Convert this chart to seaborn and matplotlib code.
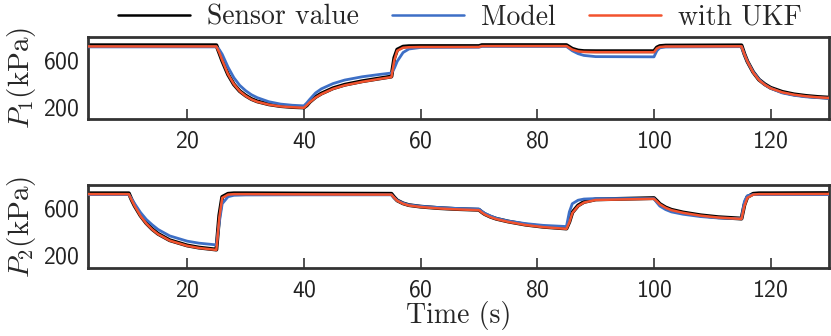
import matplotlib
matplotlib.use('Agg')
import pandas as pd
import seaborn as sns
import matplotlib.pyplot as plt

# panel 1 (P1)
t1 = [3, 25, 25.5, 26, 27, 28, 29, 30, 31, 32, 34, 36, 38, 40, 40.5, 41, 42, 43, 45, 47, 50, 53, 55,
      55.5, 56, 57, 58, 60, 70, 70.5, 85, 86, 87, 88, 90, 100, 100.5, 101, 102, 115, 115.5, 116, 117,
      118, 119, 120, 122, 124, 126, 128, 130]
p1_sensor = [727, 727, 662, 595, 478, 393, 336, 298, 268, 248, 223, 208, 200, 196, 214, 243, 285, 315,
             360, 390, 420, 444, 460, 620, 690, 715, 719, 720, 720, 728, 728, 697, 682, 677, 676, 676,
             708, 720, 724, 726, 652, 590, 498, 433, 394, 364, 329, 308, 295, 286, 280]
p1_model = [713, 713, 690, 650, 540, 450, 385, 340, 305, 280, 245, 225, 215, 210, 235, 265, 320, 355,
            400, 430, 458, 478, 490, 530, 590, 665, 695, 708, 710, 717, 717, 680, 655, 640, 630, 628,
            680, 705, 712, 715, 650, 590, 500, 435, 390, 360, 320, 300, 287, 280, 274]
p1_ukf = [717, 717, 665, 600, 480, 395, 335, 295, 265, 245, 220, 205, 198, 193, 215, 240, 280, 310,
          355, 385, 415, 440, 455, 600, 680, 706, 710, 712, 712, 720, 720, 690, 675, 670, 668, 668,
          700, 712, 716, 718, 650, 590, 495, 430, 390, 360, 325, 305, 292, 283, 277]

# panel 2 (P2)
t2 = [3, 10, 10.5, 11, 12, 13, 14, 15, 17, 20, 22, 25, 25.5, 26, 27, 28, 30, 40, 55, 55.5, 56, 57, 58,
      60, 63, 66, 70, 70.5, 71, 72, 73, 75, 78, 81, 85, 85.5, 86, 87, 88, 90, 100, 100.5, 101, 102,
      103, 105, 108, 111, 115, 115.5, 116, 117, 118, 120, 130]
p2_sensor = [729, 729, 671, 621, 538, 473, 423, 383, 328, 283, 265, 248, 540, 698, 725, 729, 729, 727,
             725, 694, 668, 643, 628, 615, 603, 595, 588, 568, 551, 528, 511, 488, 461, 443, 428, 485,
             565, 625, 655, 677, 688, 664, 638, 608, 588, 565, 541, 525, 513, 630, 697, 725, 729, 729,
             731]
p2_model = [718, 718, 680, 640, 565, 505, 460, 420, 365, 320, 303, 288, 480, 640, 700, 712, 715, 716,
            716, 690, 668, 645, 630, 618, 608, 600, 595, 575, 558, 535, 515, 492, 470, 455, 445, 570,
            640, 670, 680, 684, 684, 650, 620, 590, 570, 550, 530, 518, 512, 660, 708, 718, 718, 718,
            718]
p2_ukf = [722, 722, 670, 620, 535, 470, 420, 380, 325, 280, 262, 245, 520, 690, 718, 722, 722, 720,
          718, 690, 665, 640, 625, 612, 600, 592, 585, 565, 548, 525, 508, 485, 458, 440, 425, 480,
          560, 620, 650, 672, 682, 660, 635, 605, 585, 562, 538, 522, 510, 620, 690, 718, 722, 722,
          724]

series_labels = ['Sensor value', 'Model', 'with UKF']
ylabels = [r'$P_1$(kPa)', r'$P_2$(kPa)']

sns.set_style('ticks')
plt.rcParams['font.family'] = ['cmr10', 'DejaVu Serif']
plt.rcParams['mathtext.fontset'] = 'cm'
plt.rcParams['axes.formatter.use_mathtext'] = True

colors = ['black', '#3d6fc6', '#f2532e']
widths = [2.8, 2.0, 1.8]

fig = plt.figure(figsize=(8.31, 3.36), dpi=100)
ax1 = fig.add_axes([0.1059, 0.6449, 0.8917, 0.2459])
ax2 = fig.add_axes([0.1059, 0.2015, 0.8917, 0.2479])

panels = [(ax1, t1, [p1_sensor, p1_model, p1_ukf], (95, 800)),
          (ax2, t2, [p2_sensor, p2_model, p2_ukf], (88, 800))]

for i, (ax, t, vals, ylim) in enumerate(panels):
    for j, v in enumerate(vals):
        df = pd.DataFrame({'t': t, 'p': v})
        sns.lineplot(data=df, x='t', y='p', ax=ax, color=colors[j], lw=widths[j],
                     label=series_labels[j] if i == 0 else None, legend=False, zorder=2 + j)
    ax.set_xlim(3, 130)
    ax.set_ylim(*ylim)
    ax.set_xticks([20, 40, 60, 80, 100, 120])
    ax.set_yticks([200, 600])
    ax.tick_params(axis='x', direction='in', length=7, width=1.2, color='#333333', pad=8)
    ax.tick_params(axis='y', length=0, pad=6)
    for lab in ax.get_xticklabels() + ax.get_yticklabels():
        lab.set_fontfamily('cmss10')
        lab.set_fontsize(17)
        lab.set_color('#222222')
    for sp in ax.spines.values():
        sp.set_linewidth(2)
        sp.set_color('#333333')
    ax.set_ylabel(ylabels[i], fontsize=21, labelpad=4)
    ax.set_xlabel('')

ax2.set_xlabel('Time (s)', fontsize=20, labelpad=0)

handles, labels = ax1.get_legend_handles_labels()
leg = fig.legend(handles, labels, loc='center', bbox_to_anchor=(0.553, 0.948), ncol=3, frameon=False,
                 fontsize=20, handlelength=2.6, columnspacing=1.2, handletextpad=0.6)
for h in leg.get_lines():
    h.set_linewidth(1.8)

plt.savefig('out.png', dpi=100)
